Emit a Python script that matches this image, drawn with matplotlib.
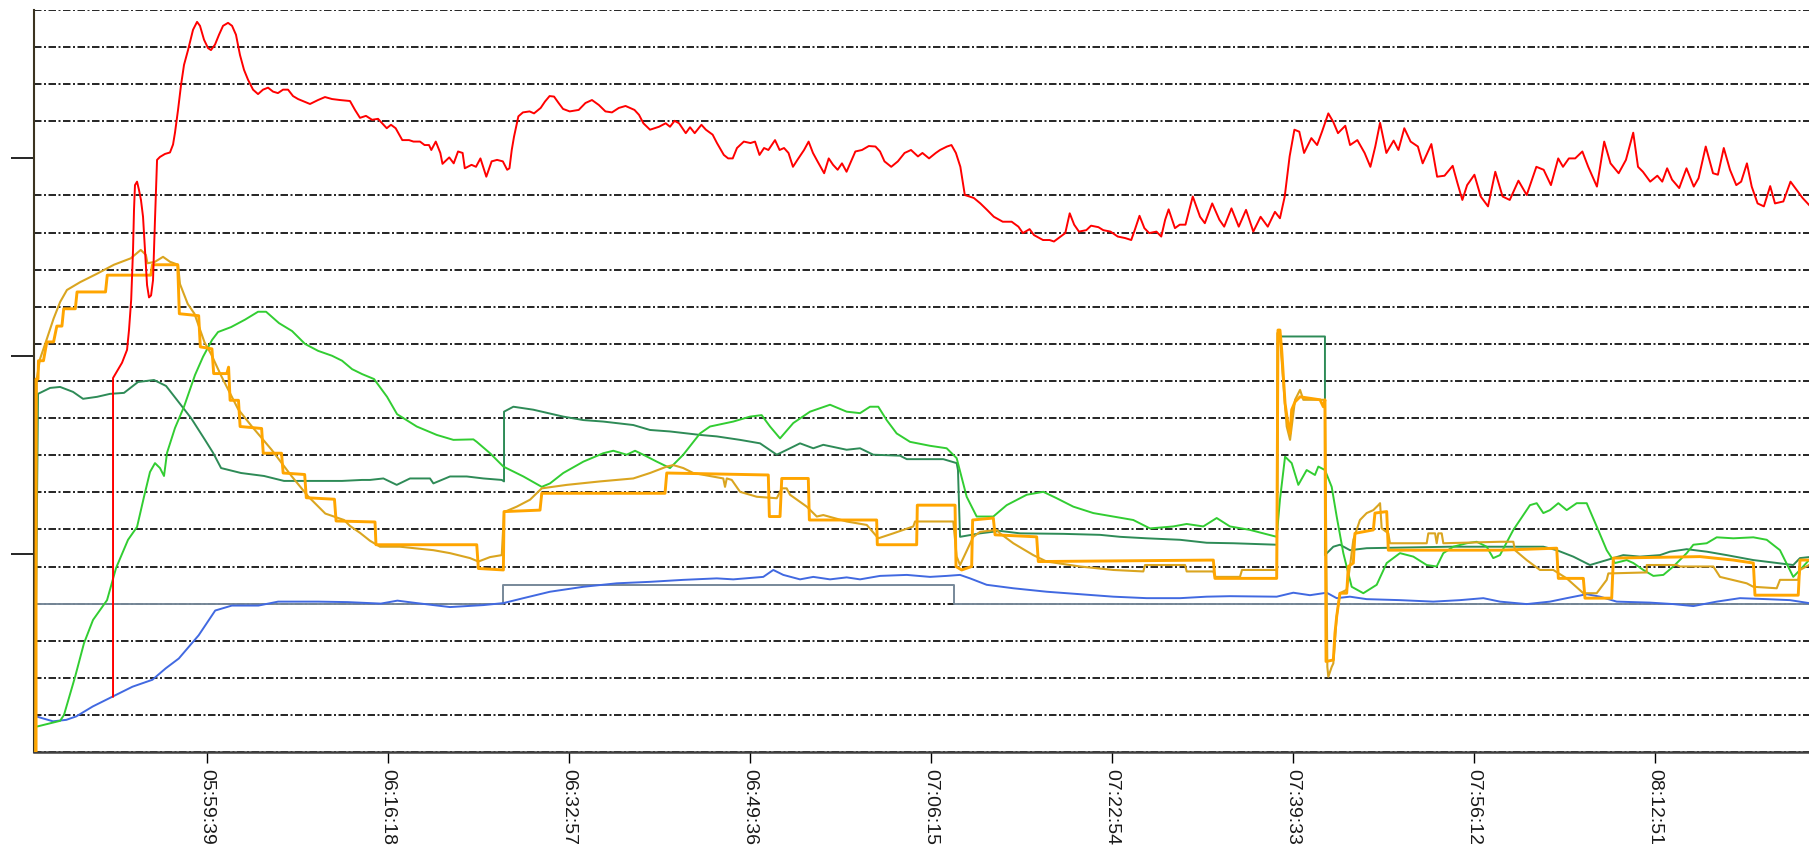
import numpy as np
import pandas as pd
import matplotlib
matplotlib.use("Agg")
import matplotlib.pyplot as plt
from matplotlib.ticker import MultipleLocator, FixedLocator, NullFormatter

plt.rcParams["font.family"] = ["Liberation Sans", "DejaVu Sans"]

START = pd.Timestamp("2024-01-01 05:43:00")

# time axis labels
tick_labels = ["05:59:39", "06:16:18", "06:32:57", "06:49:36", "07:06:15",
               "07:22:54", "07:39:33", "07:56:12", "08:12:51"]

# series: minutes after 05:43:00, value
red_t = [8.03, 8.03, 8.4, 8.86, 9.32, 9.5, 9.7, 9.87, 9.96, 10.05, 10.24, 10.42, 10.6, 10.79, 10.97,
         11.16, 11.34, 11.53, 11.71, 11.89, 12.08, 12.35, 12.81, 13.27, 13.55, 13.73, 14.01, 14.29,
         14.56, 14.93, 15.39, 15.76, 16.03, 16.4, 16.77, 17.04, 17.41, 17.78, 18.15, 18.61, 18.98,
         19.34, 19.71, 20.08, 20.45, 20.91, 21.37, 21.83, 22.29, 22.75, 23.2, 23.67, 24.13, 24.59,
         25.05, 25.7, 26.15, 26.89, 27.53, 28.18, 28.91, 29.83, 30.29, 30.75, 31.3, 31.86, 32.41,
         33.21, 33.6, 34.03, 34.64, 35.26, 35.67, 36.27, 36.69, 37.1, 37.31, 37.72, 38.14, 38.34,
         38.96, 39.37, 39.77, 40.19, 40.39, 41.01, 41.42, 41.83, 42.37, 42.86, 43.36, 43.89, 44.29,
         44.5, 44.71, 44.92, 45.32, 45.74, 46.35, 46.76, 47.37, 47.77, 48.19, 48.6, 49.02, 49.43,
         50.04, 50.87, 51.49, 52.09, 52.72, 53.33, 53.93, 54.56, 55.18, 56.0, 56.42, 56.82, 57.43,
         58.26, 58.87, 59.27, 59.69, 60.1, 60.72, 61.11, 61.54, 62.16, 62.57, 63.19, 63.59, 64.22,
         64.62, 65.04, 65.43, 66.06, 66.67, 67.09, 67.5, 67.92, 68.32, 68.93, 69.35, 69.76, 70.17,
         70.58, 70.99, 71.6, 72.02, 72.42, 72.84, 73.45, 73.87, 74.27, 74.69, 75.09, 75.51, 75.92,
         76.32, 76.93, 77.56, 78.17, 78.59, 79.0, 79.62, 80.23, 80.85, 81.44, 82.08, 82.49, 83.1,
         83.72, 84.11, 84.75, 85.16, 85.57, 85.98, 86.39, 87.22, 87.82, 88.43, 89.06, 89.88, 90.7,
         91.32, 91.73, 92.35, 92.75, 93.58, 94.19, 94.59, 95.02, 95.63, 96.04, 96.45, 96.89, 97.57,
         98.0, 98.68, 99.12, 99.79, 100.46, 101.13, 101.7, 102.02, 102.46, 102.91, 103.35, 104.02,
         104.46, 104.82, 105.14, 105.72, 106.16, 106.69, 107.36, 108.03, 108.47, 109.15, 109.81,
         110.25, 110.92, 111.59, 112.26, 112.93, 113.6, 114.26, 114.92, 115.38, 115.82, 116.27,
         116.71, 117.16, 117.6, 118.27, 118.8, 119.25, 119.83, 120.28, 120.72, 121.39, 121.83,
         122.5, 123.17, 123.7, 124.15, 124.59, 125.17, 125.84, 126.28, 126.82, 127.4, 128.07,
         128.51, 129.31, 129.84, 130.52, 131.27, 131.71, 132.16, 132.6, 133.27, 133.85, 134.52,
         135.19, 135.86, 136.52, 137.32, 138.08, 138.97, 139.64, 140.31, 140.98, 141.42, 141.96,
         142.54, 143.2, 143.74, 144.54, 145.21, 145.79, 146.54, 147.21, 147.88, 148.32, 148.77,
         149.44, 150.1, 150.55, 151.0, 151.45, 152.11, 152.78, 153.45, 153.89, 154.55, 155.22,
         155.67, 156.21, 156.78, 157.36, 157.81, 158.34, 158.78, 159.32, 159.9, 160.48, 160.92,
         161.69, 162.35, 163.02, 163.46, 164.05]
red_v = [11.2, 75.6, 77.0, 78.7, 81.3, 85.3, 91.4, 101.5, 109.6, 114.6, 115.3, 113.6, 111.6, 108.2,
         101.5, 94.4, 91.9, 92.3, 95.4, 107.6, 119.7, 120.3, 120.9, 121.2, 122.8, 125.2, 129.8, 134.9,
         138.9, 141.9, 146.0, 147.6, 146.8, 144.0, 142.3, 141.9, 143.0, 145.0, 146.8, 147.4, 146.8,
         145.0, 140.9, 137.9, 135.9, 133.9, 133.0, 133.9, 134.3, 133.5, 133.2, 133.9, 133.9, 132.6,
         132.0, 131.4, 131.0, 131.8, 132.4, 132.0, 131.8, 131.6, 129.8, 128.2, 128.6, 127.8, 128.0,
         126.1, 126.8, 126.1, 123.7, 123.7, 123.4, 123.4, 122.7, 122.7, 121.7, 123.4, 121.1, 118.9,
         120.2, 119.0, 121.4, 121.1, 118.0, 118.7, 118.3, 120.0, 116.3, 119.4, 119.7, 119.4, 117.7,
         118.0, 121.7, 124.4, 128.5, 129.3, 129.5, 129.1, 130.2, 131.5, 132.6, 132.5, 131.2, 130.0,
         129.5, 129.8, 131.2, 131.8, 130.8, 129.5, 129.3, 130.2, 130.6, 129.8, 128.8, 127.1, 125.8,
         126.4, 127.1, 126.4, 127.6, 127.1, 125.1, 126.3, 125.1, 126.8, 125.8, 124.8, 123.1, 120.7,
         120.0, 120.0, 122.1, 123.4, 123.1, 123.4, 120.7, 122.1, 121.7, 123.7, 121.7, 122.1, 121.1,
         118.3, 119.7, 121.7, 123.4, 121.1, 119.4, 117.0, 120.0, 118.7, 117.7, 119.0, 117.3, 119.4,
         121.4, 121.7, 122.5, 122.4, 121.4, 119.4, 118.3, 119.4, 121.1, 121.7, 120.4, 121.1, 120.0,
         121.1, 121.7, 122.4, 122.7, 121.1, 118.3, 112.6, 112.0, 110.9, 109.6, 108.2, 107.2, 107.2,
         106.2, 104.9, 105.7, 104.5, 103.5, 103.5, 103.2, 103.9, 104.9, 108.9, 106.6, 105.2, 105.5,
         106.4, 106.1, 105.5, 105.2, 104.2, 103.9, 103.5, 105.5, 108.4, 105.9, 104.9, 105.2,
         104.2, 107.6, 109.7, 105.9, 106.6, 106.6, 112.3, 108.2, 106.9, 110.9, 107.6,
         106.2, 109.9, 106.2, 109.6, 105.2, 108.2, 106.2, 109.2, 107.9, 112.3, 120.4,
         125.8, 125.4, 121.1, 124.1, 122.7, 125.4, 129.1, 127.4, 125.1, 126.6, 122.7,
         123.7, 121.1, 118.3, 122.4, 127.2, 121.1, 123.6, 121.7, 126.1, 123.4, 122.4,
         119.0, 122.9, 116.3, 116.5, 118.5, 115.0, 111.6, 114.6, 116.7, 112.3, 110.3,
         117.3, 112.3, 111.6, 115.5, 112.6, 118.3, 117.7, 114.6, 120.0, 118.3, 120.0,
         120.0, 121.4, 118.3, 114.3, 123.4, 119.0, 117.0, 119.7, 125.2, 118.3, 117.3,
         115.3, 116.5, 115.3, 118.0, 115.7, 114.0, 118.0, 114.3, 116.0, 122.4, 117.0,
         116.7, 122.1, 117.7, 114.6, 115.3, 119.0, 114.3, 110.9, 110.3, 114.4, 110.9,
         111.3, 115.3, 113.3, 112.0, 110.6]

lime_t = [0.95, 3.16, 3.52, 4.54, 5.36, 6.19, 7.48, 8.31, 9.41, 10.24, 10.88, 11.43, 11.89, 12.35,
          12.72, 13.0, 13.73, 14.56, 15.57, 16.31, 17.14, 17.69, 18.89, 20.17, 21.37, 22.11, 23.3,
          24.5, 25.69, 26.89, 28.18, 29.1, 30.02, 30.94, 32.04, 33.24, 34.16, 35.97, 37.81, 39.34,
          41.18, 41.49, 42.71, 43.94, 45.78, 47.47, 48.23, 49.45, 51.3, 53.13, 54.05, 55.29, 56.05,
          56.81, 58.05, 59.27, 60.49, 62.03, 62.95, 65.09, 66.63, 67.7, 68.47, 69.39, 70.61, 72.15,
          73.99, 75.52, 76.75, 77.67, 78.43, 79.2, 80.12, 81.35, 83.19, 84.72, 85.64, 86.56, 87.48,
          89.01, 90.24, 92.08, 93.61, 94.84, 96.37, 98.21, 100.05, 101.89, 103.42, 105.57, 106.8,
          108.33, 109.56, 110.78, 112.62, 115.08, 115.38, 115.85, 116.46, 117.07, 117.84, 118.6,
          118.91, 119.52, 120.14, 120.6, 121.21, 121.98, 123.05, 124.28, 125.2, 126.42, 127.65,
          128.88, 129.8, 130.41, 131.33, 132.56, 133.48, 134.4, 135.0, 135.62, 136.85, 138.38,
          139.0, 139.61, 140.22, 140.99, 141.76, 142.68, 143.6, 144.52, 145.44, 146.2, 147.28,
          147.89, 148.81, 149.73, 150.65, 151.57, 152.8, 153.41, 154.64, 155.56, 157.09, 158.93,
          160.16, 161.38, 162.6, 163.22, 164.05]
lime_v = [5.1, 6.3, 7.5, 15.2, 22.0, 26.7, 30.7, 37.2, 42.9, 45.5, 51.6, 56.6, 58.4, 57.4, 55.8,
          60.5, 65.5, 69.8, 76.2, 79.9, 83.3, 84.9, 85.9, 87.4, 89.0, 89.0, 86.7, 85.1, 82.5, 81.1,
          80.1, 79.1, 77.4, 76.4, 75.4, 71.8, 68.3, 65.8, 64.1, 63.1, 63.2, 62.7, 60.4, 57.7, 55.7,
          53.6, 54.3, 56.4, 58.7, 60.4, 60.9, 60.1, 60.9, 60.1, 58.7, 57.4, 60.1, 64.4, 65.8, 66.8,
          67.8, 68.1, 65.8, 63.4, 66.5, 68.8, 70.2, 68.8, 68.5, 69.8, 69.8, 67.1, 64.4, 62.7, 61.9,
          61.4, 59.4, 51.6, 47.6, 47.6, 49.9, 52.0, 52.6, 51.3, 49.6, 48.3, 47.6, 46.9, 45.2, 45.6,
          46.1, 45.6, 47.3, 45.6, 44.9, 43.5, 51.0, 59.7, 58.4, 54.0, 57.0, 56.0, 57.7, 57.0, 53.6,
          47.6, 40.2, 33.4, 32.1, 33.8, 38.2, 40.2, 39.5, 37.8, 37.5, 40.2, 41.5, 42.2, 42.5, 41.5,
          39.2, 39.8, 44.9, 49.9, 50.3, 48.3, 48.9, 50.3, 48.9, 50.3, 50.3, 45.6, 40.8, 38.2, 38.8,
          38.2, 36.8, 35.6, 35.8, 37.5, 40.2, 41.9, 42.2, 43.4, 43.2, 43.4, 42.9, 40.8, 35.4, 36.8,
          38.8]

sea_t = [0.95, 1.13, 2.24, 3.16, 4.35, 5.27, 6.56, 7.75, 9.04, 10.33, 11.8, 12.91, 13.55, 15.21,
         16.49, 17.23, 17.97, 19.81, 21.92, 23.76, 26.15, 29.1, 30.94, 31.67, 32.9, 34.13, 35.35,
         37.19, 37.5, 39.03, 40.57, 42.1, 43.79, 44.0, 44.0, 44.86, 46.69, 49.45, 51.3, 53.13, 55.89,
         57.43, 59.27, 62.03, 63.57, 65.71, 67.55, 69.09, 70.31, 71.23, 72.45, 73.37, 75.52, 76.75,
         77.97, 80.43, 81.05, 84.41, 85.64, 85.76, 85.95, 87.79, 89.63, 91.47, 95.45, 98.83, 100.67,
         103.12, 106.19, 108.64, 111.09, 115.11, 115.2, 119.52, 119.52, 120.29, 120.9, 121.82,
         123.36, 131.02, 139.61, 140.84, 142.36, 143.9, 145.44, 146.96, 148.5, 150.34, 151.26,
         152.8, 154.64, 156.48, 158.93, 160.77, 162.6, 163.22, 164.05]
sea_v = [30.0, 72.4, 73.6, 73.8, 72.8, 71.4, 71.8, 72.4, 72.6, 74.8, 75.2, 74.0, 72.2, 67.5, 63.1,
         60.5, 57.4, 56.4, 55.8, 54.8, 54.8, 54.8, 55.0, 55.0, 55.3, 54.0, 55.3, 55.3, 54.3, 55.7,
         55.7, 55.3, 55.0, 54.7, 68.8, 69.8, 69.2, 67.8, 67.1, 66.8, 66.1, 65.1, 64.8, 64.1, 63.8,
         63.1, 62.4, 60.1, 61.4, 62.4, 61.4, 62.1, 61.1, 61.4, 60.1, 59.9, 59.2, 59.2, 58.4, 57.0,
         43.5, 44.2, 44.7, 44.2, 44.1, 43.9, 43.5, 43.2, 42.9, 42.3, 42.2, 41.9, 84.0, 84.0, 39.8,
         41.5, 41.9, 40.8, 41.2, 41.5, 41.5, 40.8, 39.5, 37.8, 38.8, 39.8, 39.5, 39.8, 40.5, 41.0,
         40.5, 39.8, 38.8, 38.3, 37.8, 39.2, 39.4]

blue_t = [0.95, 2.51, 3.73, 4.65, 6.16, 7.99, 9.82, 11.65, 12.87, 14.08, 15.91, 17.43, 18.96, 21.4,
          23.22, 26.88, 29.62, 32.67, 34.19, 35.97, 39.03, 42.1, 43.94, 45.78, 48.23, 51.3, 54.37,
          57.43, 60.49, 63.57, 65.09, 67.85, 68.77, 69.69, 71.23, 72.45, 73.99, 75.52, 76.75, 78.59,
          81.05, 83.19, 84.72, 85.95, 86.87, 88.4, 90.85, 93.92, 96.99, 100.05, 103.12, 106.19,
          108.64, 110.78, 115.08, 116.61, 118.14, 119.68, 120.6, 121.82, 123.36, 126.42, 129.49,
          131.94, 134.09, 135.62, 138.08, 140.22, 141.76, 143.6, 144.82, 146.36, 149.42, 151.57,
          153.41, 155.56, 157.7, 160.16, 162.3, 164.05]
blue_v = [7.2, 6.2, 6.5, 7.2, 9.2, 11.2, 13.2, 14.6, 16.9, 18.9, 23.6, 28.6, 29.6, 29.6, 30.4, 30.4,
          30.3, 30.0, 30.6, 30.1, 29.3, 29.7, 30.1, 31.1, 32.4, 33.4, 34.1, 34.4, 34.8, 35.1, 34.9,
          35.4, 36.8, 35.8, 34.9, 35.4, 34.9, 35.3, 34.9, 35.6, 35.8, 35.4, 35.6, 35.8, 35.1, 33.8,
          33.1, 32.4, 31.9, 31.4, 31.1, 31.1, 31.4, 31.5, 31.4, 32.2, 31.7, 32.2, 31.1, 31.4, 30.9,
          30.7, 30.4, 30.7, 31.1, 30.4, 29.9, 30.4, 31.1, 31.9, 31.4, 30.4, 30.2, 29.9, 29.5, 30.4,
          31.1, 30.9, 30.7, 30.1]

gray_t = [0.95, 43.91, 43.91, 85.4, 85.4, 164.05]
gray_v = [30.0, 30.0, 33.8, 33.8, 30.0, 30.0]

orange_t = [0.95, 0.95, 1.13, 1.17, 1.63, 1.94, 2.56, 2.86, 3.33, 3.49, 4.56, 4.72, 7.34, 7.5, 11.51,
            11.66, 13.98, 14.13, 15.91, 16.06, 17.13, 17.29, 18.5, 18.66, 18.8, 19.57, 19.72, 21.7,
            21.85, 23.53, 23.68, 25.66, 25.81, 28.4, 28.55, 32.13, 32.22, 41.49, 41.64, 43.94, 44.0,
            47.31, 47.47, 58.81, 58.97, 68.31, 68.41, 69.39, 69.55, 71.99, 72.09, 78.28, 78.34,
            81.96, 82.02, 85.49, 85.58, 86.1, 87.02, 87.11, 89.01, 89.17, 93.0, 93.15, 109.25,
            109.4, 115.08, 115.2, 115.38, 115.54, 115.85, 116.15, 116.31, 116.46, 116.77, 117.23,
            119.07, 119.37, 119.52, 119.62, 120.29, 120.44, 120.6, 120.9, 121.52, 121.67, 122.13,
            122.28, 123.97, 124.12, 125.2, 125.35, 135.62, 140.84, 140.99, 143.29, 143.44, 145.9,
            146.05, 154.02, 157.09, 158.93, 159.08, 163.06, 163.22, 164.05]
orange_v = [0.0, 75.4, 75.4, 79.1, 79.1, 82.9, 82.9, 86.1, 86.1, 89.6, 89.6, 93.0, 93.0, 96.4, 96.4,
            98.5, 98.5, 88.6, 88.2, 81.9, 81.5, 76.5, 76.5, 77.8, 71.1, 71.1, 65.8, 65.4, 60.4, 60.4,
            56.4, 56.1, 51.4, 51.1, 46.7, 46.5, 41.9, 41.9, 37.1, 36.8, 48.6, 48.9, 52.3, 52.3, 56.4,
            56.0, 47.6, 47.6, 55.3, 55.3, 46.9, 46.9, 41.9, 41.9, 49.9, 49.9, 37.5, 36.8, 37.5, 46.9,
            47.3, 43.9, 43.5, 38.5, 38.8, 35.1, 35.1, 85.3, 85.3, 81.3, 70.5, 65.8, 64.4, 69.2, 70.8,
            71.8, 71.2, 69.8, 71.2, 18.3, 18.6, 24.0, 27.4, 32.1, 32.1, 37.5, 38.2, 44.2, 44.9, 48.3,
            48.6, 40.8, 40.8, 41.2, 35.1, 35.1, 31.1, 31.1, 39.2, 39.5, 38.8, 38.2, 31.7, 31.7, 38.8,
            38.8]

gold_t = [0.86, 1.01, 1.32, 1.94, 2.56, 3.17, 3.79, 5.02, 6.57, 8.11, 9.66, 10.58, 11.05, 11.2, 11.89,
          12.63, 13.27, 14.01, 14.19, 14.9, 15.52, 16.45, 17.06, 17.99, 19.54, 20.77, 22.62, 24.48,
          26.01, 27.56, 29.28, 29.83, 30.75, 31.67, 32.59, 34.43, 37.5, 39.03, 40.87, 41.64, 42.71,
          43.79, 44.0, 45.17, 46.39, 47.47, 49.77, 52.83, 55.89, 57.43, 58.97, 59.57, 60.49, 61.41,
          64.17, 64.33, 64.49, 64.95, 65.71, 67.25, 69.09, 69.55, 70.0, 70.31, 71.85, 72.77, 73.37,
          75.52, 77.37, 78.43, 79.81, 81.65, 81.81, 85.33, 85.64, 85.95, 87.17, 87.79, 89.32, 89.63,
          90.85, 92.69, 93.92, 96.99, 100.05, 102.81, 102.97, 106.65, 106.8, 109.25, 109.4, 111.7,
          111.89, 115.11, 115.14, 115.38, 115.69, 116.0, 116.31, 116.46, 116.77, 117.23, 117.53,
          119.52, 119.74, 119.83, 120.14, 120.29, 120.6, 120.9, 121.52, 121.82, 122.13, 122.44,
          122.74, 123.36, 123.97, 124.43, 124.59, 124.74, 125.35, 125.5, 128.88, 129.03, 129.65,
          129.8, 129.95, 130.26, 130.41, 135.62, 136.85, 137.0, 138.08, 139.3, 140.53, 141.76,
          143.29, 144.52, 145.44, 145.59, 149.12, 149.12, 151.88, 152.18, 155.25, 155.86, 158.32,
          158.93, 161.08, 161.38, 163.06, 163.22, 164.05]
gold_v = [0.0, 75.4, 79.5, 83.5, 87.6, 91.0, 93.4, 95.0, 96.7, 98.5, 99.8, 101.5, 100.5, 98.8, 99.1,
          100.1, 99.1, 98.5, 94.6, 90.6, 88.6, 82.8, 80.4, 76.0, 69.3, 65.9, 61.1, 55.7, 51.6, 48.2,
          46.9, 45.7, 44.3, 42.7, 41.5, 41.5, 40.8, 40.2, 39.2, 38.5, 39.4, 39.8, 48.5, 49.6, 51.0,
          53.3, 54.0, 54.7, 55.3, 56.4, 57.7, 58.0, 57.4, 56.4, 55.3, 53.6, 55.3, 55.0, 52.6, 51.6,
          51.3, 53.3, 53.3, 52.0, 49.6, 47.6, 47.9, 46.6, 45.9, 43.2, 44.2, 45.6, 46.6, 46.6, 39.5,
          37.8, 43.5, 44.5, 44.9, 44.2, 42.2, 39.8, 38.5, 37.5, 36.8, 36.5, 37.8, 37.8, 36.5, 36.5,
          35.4, 35.4, 36.8, 36.8, 84.7, 84.0, 74.6, 65.8, 63.1, 65.8, 71.2, 73.2, 71.2, 71.2, 17.2,
          15.2, 17.2, 17.9, 27.4, 32.1, 32.8, 37.5, 42.9, 44.9, 46.9, 48.3, 48.9, 49.9, 50.3, 45.2,
          44.2, 42.2, 42.2, 44.2, 44.2, 42.2, 44.2, 44.2, 42.2, 42.5, 42.5, 40.8, 38.8, 36.8, 36.8,
          35.1, 32.1, 32.1, 34.8, 36.1, 36.3, 37.8, 37.8, 37.5, 37.5, 35.4, 34.1, 33.4, 33.1, 34.8,
          34.8, 36.8, 37.8]


def to_time(minutes):
    return START + pd.to_timedelta(np.atleast_1d(np.asarray(minutes, dtype=float)), unit="min")


fig = plt.figure(figsize=(18.09, 8.60), dpi=100)
ax = fig.add_axes([34 / 1809, 1 - 752 / 860, 1 - 34 / 1809, 742 / 860])

# horizontal dash-dot grid every 7.5 units
ax.yaxis.set_minor_locator(MultipleLocator(7.5))
ax.grid(axis="y", which="minor", color="black", linewidth=1.2,
        linestyle=(0, (4.5, 1.5, 1.2, 1.5)), zorder=0)
ax.set_axisbelow(True)

series = [
    (gray_t, gray_v, "#778899", 1.4),
    (blue_t, blue_v, "#4169e1", 1.4),
    (sea_t, sea_v, "#2e8b57", 1.4),
    (lime_t, lime_v, "#32cd32", 1.4),
    (gold_t, gold_v, "#daa520", 1.5),
    (orange_t, orange_v, "#ffa500", 2.1),
    (red_t, red_v, "#ff0000", 1.4),
]
for i, (t, v, c, lw) in enumerate(series):
    ax.plot(to_time(t), v, color=c, linewidth=lw, zorder=2 + i)

ax.set_ylim(0, 150)
ax.set_xlim(to_time(0.76)[0], to_time(164.05)[0])

ax.yaxis.set_major_locator(FixedLocator([40, 80, 120]))
ax.yaxis.set_major_formatter(NullFormatter())
ax.tick_params(axis="y", which="major", length=16.5, width=1.2, direction="out", color="black")
ax.tick_params(axis="y", which="minor", length=0)

tick_pos = [pd.Timestamp("2024-01-01 " + s) for s in tick_labels]
ax.set_xticks(tick_pos)
ax.set_xticklabels(tick_labels, rotation=-90, fontsize=14, color="#1a1a1a")
ax.tick_params(axis="x", length=8, width=1.0, direction="out", pad=4, color="black")

for side in ("top", "right"):
    ax.spines[side].set_visible(False)
ax.spines["left"].set_color("#3b3320")
ax.spines["left"].set_linewidth(1.5)
ax.spines["bottom"].set_color("#404040")
ax.spines["bottom"].set_linewidth(1.8)

fig.savefig("out.png", dpi=100)
